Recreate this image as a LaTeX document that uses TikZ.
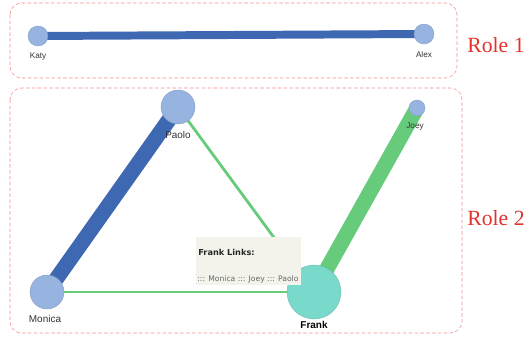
\documentclass[tikz,border=0pt]{standalone}
\usepackage{fontspec}
\setmainfont{Liberation Sans}
\newfontfamily\rolefont{Liberation Serif}
\newfontfamily\tipfont{DejaVu Sans}
\usetikzlibrary{backgrounds}
\definecolor{nodeblue}{HTML}{97B3E0}
\definecolor{linkblue}{HTML}{3F68B2}
\definecolor{linkgreen}{HTML}{66CC7C}
\definecolor{frankteal}{HTML}{79D9CA}
\definecolor{rolered}{HTML}{E3322E}
\definecolor{tipbg}{HTML}{F3F3EC}

\begin{document}
\begin{tikzpicture}[x=0.03cm,y=-0.03cm,
  person/.style={circle,fill=nodeblue,draw=nodeblue!85!black,line width=0.3pt,inner sep=0pt,minimum size=#1*0.03cm},
  who/.style={font=\fontsize{7}{8}\selectfont,text=black!80},
  rolebox/.style={draw=rolered!55,densely dashed,line width=0.5pt,rounded corners=10pt},
  rolelbl/.style={font=\rolefont\fontsize{18.5}{21}\selectfont,text=rolered}]
  \useasboundingbox (0,0) rectangle (529,340);
  % cadres des roles
  \draw[rolebox] (10,3) rectangle (457,78);
  \draw[rolebox] (10,88) rectangle (462,333);
  \node[rolelbl] (r1) at (496,45){Role 1};
  \node[rolelbl] (r2) at (496,218){Role 2};
  % noeuds
  \node[person=20] (katy) at (38,36){};
  \node[person=20] (alex) at (424,34){};
  \node[person=34] (paolo) at (178,107){};
  \node[person=16] (joey) at (417,108){};
  \node[person=34] (monica) at (47,292){};
  \node[person=54,fill=frankteal,draw=frankteal!85!black] (frank) at (314,292){};
  % liens, sous les noeuds
  \begin{scope}[on background layer]
    \draw[linkblue,line width=6.8pt] (katy.center)--(alex.center);
    \draw[linkblue,line width=13pt] (paolo.center)--(monica.center);
    \draw[linkgreen,line width=13pt] (joey.center)--(frank.center);
    \draw[linkgreen,line width=2.4pt] (paolo.center)--(frank.center);
    \draw[linkgreen,line width=2.4pt] (monica.center)--(frank.center);
  \end{scope}
  % etiquettes
  \node[who] (lkaty) at (38,57){Katy};
  \node[who] (lalex) at (424,55){Alex};
  \node[who,font=\fontsize{8.5}{10}\selectfont] (lpaolo) at (178,135){Paolo};
  \node[who] (ljoey) at (415,127){Joey};
  \node[who,font=\fontsize{8.5}{10}\selectfont] (lmonica) at (45,319){Monica};
  \node[who,font=\bfseries\fontsize{8.5}{10}\selectfont,text=black] (lfrank) at (314,325){Frank};
  % infobulle
  \fill[tipbg] (196,237) rectangle (301,285);
  \node[anchor=west,font=\tipfont\bfseries\fontsize{7}{8}\selectfont,text=black!85,inner sep=1pt] (tiptitle) at (197,252){Frank Links:};
  \node[anchor=west,font=\tipfont\fontsize{6.5}{7}\selectfont,text=black!60,inner sep=1pt] (tiplist) at (196,279){::: Monica ::: Joey ::: Paolo};
\end{tikzpicture}
\end{document}
